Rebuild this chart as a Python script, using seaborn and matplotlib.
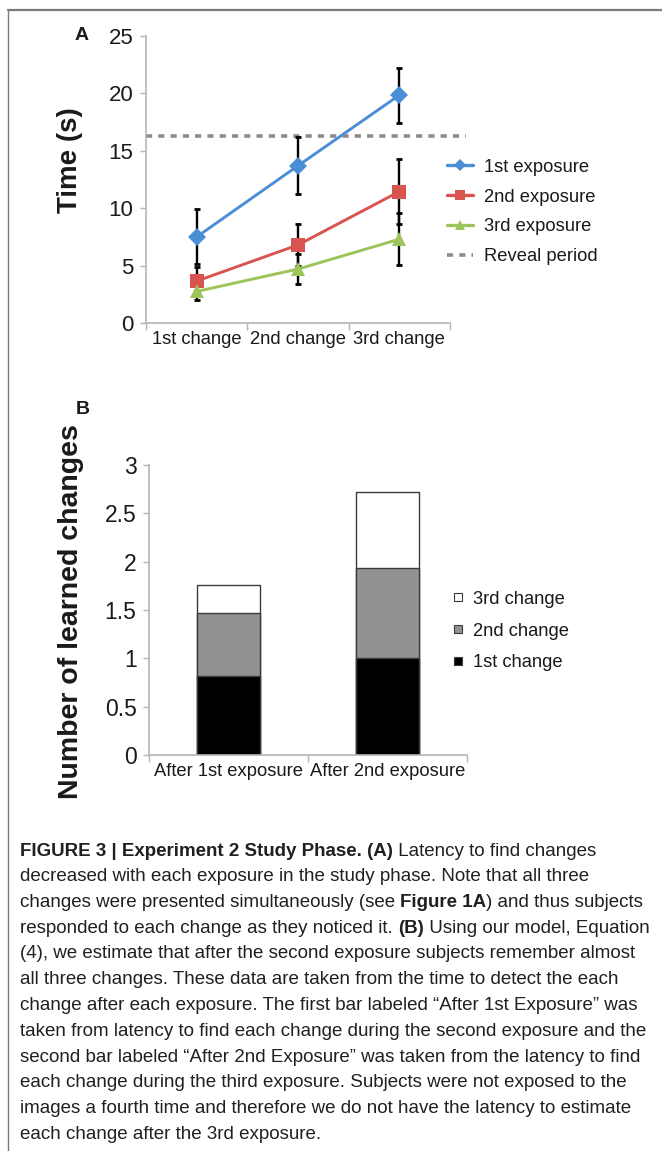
import numpy as np
import pandas as pd
import matplotlib
matplotlib.use("Agg")
import matplotlib.pyplot as plt
from matplotlib.lines import Line2D
from matplotlib.font_manager import FontProperties
import seaborn as sns

# ---------------- Panel A data ----------------
changes = ["1st change", "2nd change", "3rd change"]
exposures = ["1st exposure", "2nd exposure", "3rd exposure"]
time_1st = [7.5, 13.7, 19.85]
time_2nd = [3.65, 6.8, 11.45]
time_3rd = [2.75, 4.7, 7.3]
err_1st = [2.4, 2.5, 2.4]
err_2nd = [1.25, 1.8, 2.8]
err_3rd = [0.72, 1.3, 2.25]
reveal_period = 16.3
reveal_label = "Reveal period"
yticks_a = [0, 5, 10, 15, 20, 25]

# ---------------- Panel B data ----------------
bar_groups = ["After 1st exposure", "After 2nd exposure"]
change_names = ["1st change", "2nd change", "3rd change"]
learned_1st = [0.82, 1.00]
learned_2nd = [0.65, 0.93]
learned_3rd = [0.29, 0.79]
yticks_b = [0, 0.5, 1, 1.5, 2, 2.5, 3]
yticklabels_b = ["0", "0.5", "1", "1.5", "2", "2.5", "3"]

caption_lines = [
    [("FIGURE 3 | Experiment 2 Study Phase. (A)", True), (" Latency to find changes", False)],
    [("decreased with each exposure in the study phase. Note that all three", False)],
    [("changes were presented simultaneously (see ", False), ("Figure 1A", True), (") and thus subjects", False)],
    [("responded to each change as they noticed it. ", False), ("(B)", True), (" Using our model, Equation", False)],
    [("(4), we estimate that after the second exposure subjects remember almost", False)],
    [("all three changes. These data are taken from the time to detect the each", False)],
    [("change after each exposure. The first bar labeled \u201cAfter 1st Exposure\u201d was", False)],
    [("taken from latency to find each change during the second exposure and the", False)],
    [("second bar labeled \u201cAfter 2nd Exposure\u201d was taken from the latency to find", False)],
    [("each change during the third exposure. Subjects were not exposed to the", False)],
    [("images a fourth time and therefore we do not have the latency to estimate", False)],
    [("each change after the 3rd exposure.", False)],
]

# ---------------- style ----------------
sns.set_style("ticks")
plt.rcParams["font.family"] = ["Liberation Sans", "DejaVu Sans"]
TXT = "#1a1a1a"
SPINE = "#b5b5b5"
colors = {"1st exposure": "#4a8fd6", "2nd exposure": "#d9534f", "3rd exposure": "#9cc45a"}
markers = {"1st exposure": "D", "2nd exposure": "s", "3rd exposure": "^"}
msizes = {"1st exposure": 9.5, "2nd exposure": 10, "3rd exposure": 10}

W, H = 662, 1151
fig = plt.figure(figsize=(W / 100, H / 100), dpi=100)

def fx(px):
    return px / W

def fy(py):
    return 1 - py / H

# ---------------- Panel A ----------------
axA = fig.add_axes([fx(146), fy(323), fx(450) - fx(146), fy(36) - fy(323)])
dfA = pd.DataFrame({
    "pos": np.tile(np.arange(len(changes)), 3),
    "time": time_1st + time_2nd + time_3rd,
    "err": err_1st + err_2nd + err_3rd,
    "exposure": np.repeat(exposures, len(changes)),
})
axA.axhline(reveal_period, xmin=0, xmax=1.053, color="#8c8c8c", lw=2.6,
            linestyle=(0, (1.7, 1.7)), clip_on=False, zorder=1)
for exp in exposures:
    sub = dfA[dfA["exposure"] == exp]
    axA.errorbar(sub["pos"], sub["time"], yerr=sub["err"], fmt="none",
                 ecolor="black", elinewidth=1.7, capsize=2.3, capthick=2.0, zorder=2)
for exp in exposures:
    sub = dfA[dfA["exposure"] == exp]
    sns.lineplot(data=sub, x="pos", y="time", color=colors[exp], marker=markers[exp],
                 markersize=msizes[exp], markeredgewidth=0, linewidth=2.1,
                 ax=axA, legend=False, zorder=3)
axA.set_xlim(-0.5, 2.5)
axA.set_ylim(0, 25)
axA.set_yticks(yticks_a)
axA.set_yticklabels([str(v) for v in yticks_a], fontsize=16, color=TXT)
axA.set_xticks([-0.5, 0.5, 1.5, 2.5])
axA.set_xticklabels([])
axA.set_xticks(range(len(changes)), minor=True)
axA.set_xticklabels(changes, minor=True, fontsize=13.2, color=TXT)
axA.tick_params(axis="x", which="minor", length=0, pad=6)
axA.tick_params(axis="x", which="major", length=5, width=1, color=SPINE)
axA.tick_params(axis="y", length=4, width=1, color=SPINE, pad=5)
axA.set_xlabel("")
axA.set_ylabel("Time (s)", fontsize=20, fontweight="bold", color=TXT)
axA.yaxis.set_label_coords(-0.207, 0.569)
for s in ["top", "right"]:
    axA.spines[s].set_visible(False)
for s in ["left", "bottom"]:
    axA.spines[s].set_color(SPINE)
    axA.spines[s].set_linewidth(1.2)

handlesA = [Line2D([], [], color=colors[e], marker=markers[e], markersize=6.5,
                   markeredgewidth=0, lw=2.4) for e in exposures]
handlesA.append(Line2D([], [], color="#8c8c8c", lw=2.6, linestyle=(0, (1.7, 1.7))))
legA = axA.legend(handlesA, exposures + [reveal_label], loc="center left",
                  bbox_to_anchor=(fx(447), fy(212)), bbox_transform=fig.transFigure,
                  frameon=False, fontsize=13.2, handlelength=1.42, handletextpad=0.6,
                  labelspacing=0.7, borderpad=0, borderaxespad=0)
for t in legA.get_texts():
    t.set_color(TXT)

fig.text(fx(82), fy(35), "A", fontsize=14, fontweight="bold", ha="center", va="center", color=TXT)

# ---------------- Panel B ----------------
axB = fig.add_axes([fx(149), fy(755), fx(467) - fx(149), fy(465) - fy(755)])
l1 = np.array(learned_1st)
l12 = l1 + np.array(learned_2nd)
l123 = l12 + np.array(learned_3rd)
edge = "#3a3a3a"
fillsB = ["black", "#929292", "white"]  # 1st, 2nd, 3rd change
sns.barplot(x=bar_groups, y=l123, color=fillsB[2], edgecolor=edge, linewidth=1.0,
            width=0.4, saturation=1, ax=axB)
sns.barplot(x=bar_groups, y=l12, color=fillsB[1], edgecolor=edge, linewidth=1.0,
            width=0.4, saturation=1, ax=axB)
sns.barplot(x=bar_groups, y=l1, color=fillsB[0], edgecolor=edge, linewidth=1.0,
            width=0.4, saturation=1, ax=axB)
axB.set_xlim(-0.5, 1.5)
axB.set_ylim(0, 3)
axB.set_yticks(yticks_b)
axB.set_yticklabels(yticklabels_b, fontsize=16.5, color=TXT)
axB.set_xticks([-0.5, 0.5, 1.5])
axB.set_xticklabels([])
axB.set_xticks([0, 1], minor=True)
axB.set_xticklabels(bar_groups, minor=True, fontsize=13.2, color=TXT)
axB.tick_params(axis="x", which="minor", length=0, pad=6)
axB.tick_params(axis="x", which="major", length=5, width=1, color=SPINE)
axB.tick_params(axis="y", length=4, width=1, color=SPINE, pad=5)
axB.set_ylabel("Number of learned changes", fontsize=20.5, fontweight="bold", color=TXT)
axB.yaxis.set_label_coords(-0.205, 0.493)
for s in ["top", "right"]:
    axB.spines[s].set_visible(False)
for s in ["left", "bottom"]:
    axB.spines[s].set_color(SPINE)
    axB.spines[s].set_linewidth(1.2)

handlesB = [Line2D([], [], linestyle="none", marker="s", markersize=6,
                   markerfacecolor=fillsB[i], markeredgecolor=edge, markeredgewidth=0.8)
            for i in [2, 1, 0]]
legB = axB.legend(handlesB, [change_names[i] for i in [2, 1, 0]], loc="center left",
                  bbox_to_anchor=(fx(451), fy(631)), bbox_transform=fig.transFigure,
                  frameon=False, fontsize=13.2, handlelength=0.8, handletextpad=0.4,
                  labelspacing=0.8, borderpad=0, borderaxespad=0)
for t in legB.get_texts():
    t.set_color(TXT)

fig.text(fx(83), fy(410), "B", fontsize=14, fontweight="bold", ha="center", va="center", color=TXT)

# ---------------- Frame lines ----------------
fig.add_artist(Line2D([fx(8), 1], [fy(10), fy(10)], color="#7a7a7a", lw=1.6))
fig.add_artist(Line2D([fx(8), fx(8)], [fy(10), 0], color="#7a7a7a", lw=1.0))

# ---------------- Caption ----------------
renderer = fig.canvas.get_renderer()
cap_size = 13.5

def advance(s, prop):
    w1, _, _ = renderer.get_text_width_height_descent("x" + s + "x", prop, ismath=False)
    w0, _, _ = renderer.get_text_width_height_descent("xx", prop, ismath=False)
    return w1 - w0

y0, dy = 851, 25.75
for i, line in enumerate(caption_lines):
    x = 20.0
    for txt, bold in line:
        prop = FontProperties(family=["Liberation Sans", "DejaVu Sans"], size=cap_size,
                              weight="bold" if bold else "normal")
        fig.text(fx(x), fy(y0 + i * dy), txt, fontproperties=prop, ha="left",
                 va="center", color="#231f20")
        x += advance(txt, prop)

fig.savefig("out.png", dpi=100)
